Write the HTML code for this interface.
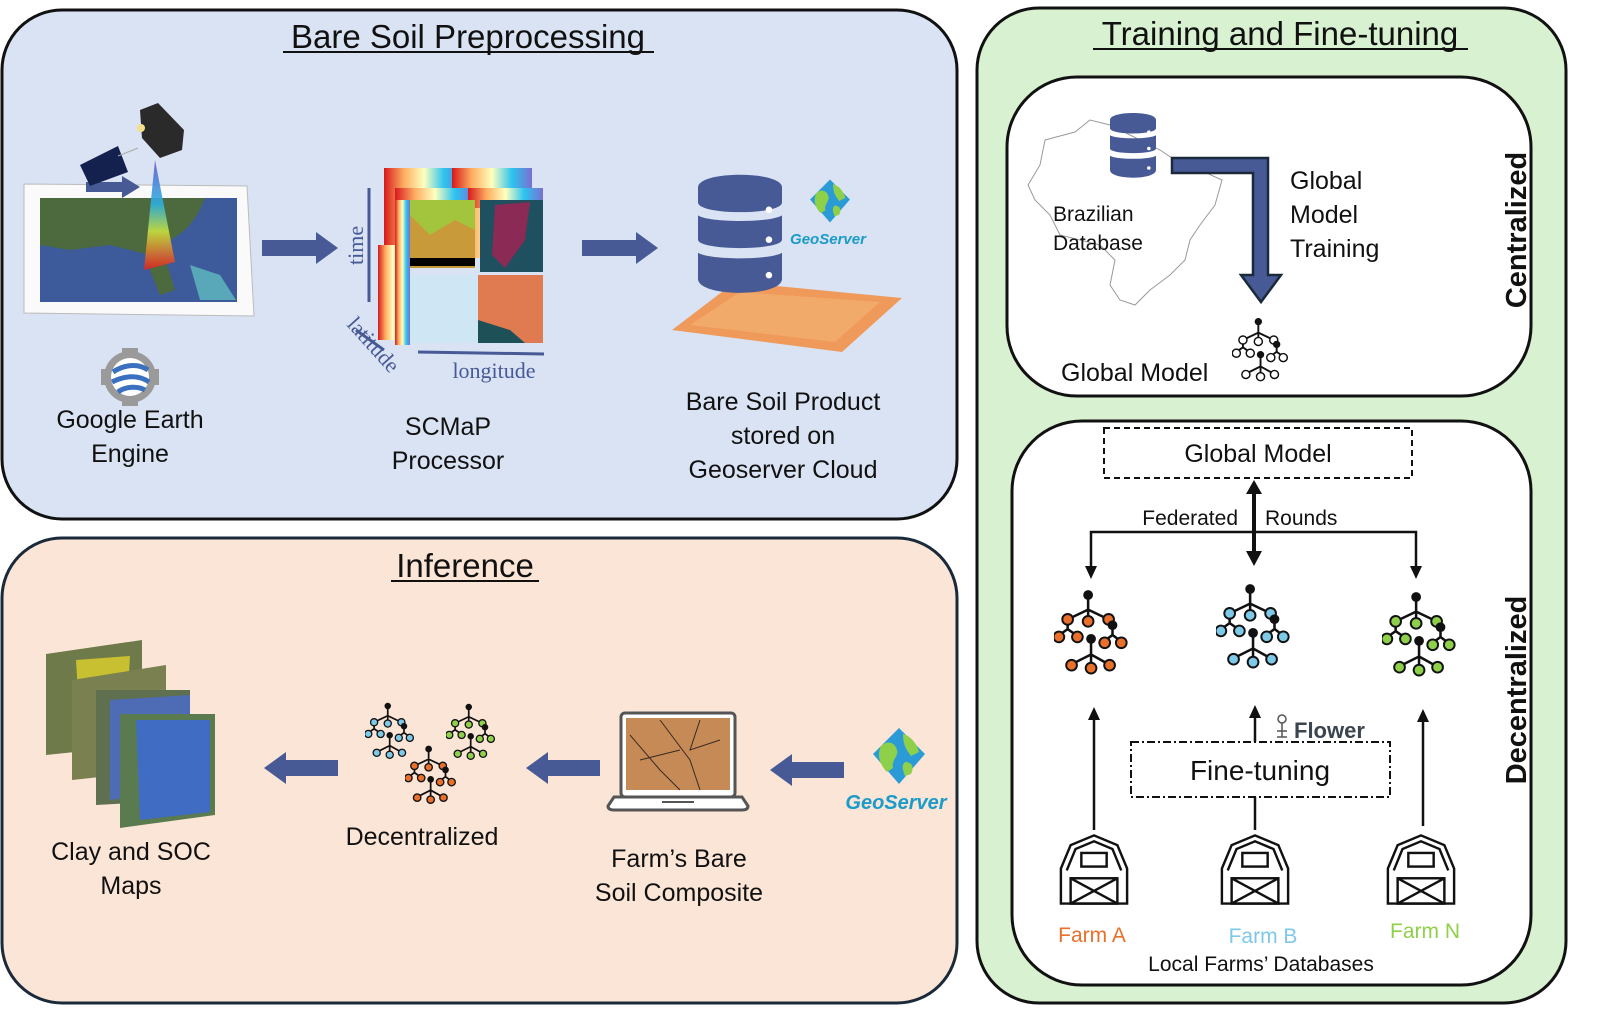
<!DOCTYPE html>
<html><head><meta charset="utf-8"><style>
html,body{margin:0;padding:0;background:#fff;}
svg{display:block;font-family:"Liberation Sans",sans-serif;}
</style></head><body>
<svg width="1600" height="1026" viewBox="0 0 1600 1026" xmlns="http://www.w3.org/2000/svg">
<defs>
<linearGradient id="rb" x1="0" y1="0" x2="1" y2="0">
<stop offset="0" stop-color="#d7191c"/><stop offset="0.25" stop-color="#fdae61"/><stop offset="0.5" stop-color="#ffffbf"/><stop offset="0.75" stop-color="#2bc4f0"/><stop offset="1" stop-color="#7b6fd0"/></linearGradient>
<linearGradient id="beam" x1="0" y1="0" x2="0" y2="1">
<stop offset="0" stop-color="#6a5acd"/><stop offset="0.4" stop-color="#2bb0e0"/><stop offset="0.65" stop-color="#c8e040"/><stop offset="1" stop-color="#e02020"/></linearGradient>
<symbol id="tree" viewBox="0 0 80 90">
<g stroke="#111" stroke-width="2.6" fill="none">
<path d="M35 5V20M35 20L14 30M35 20V32M35 20L56 30M14 30V40L4 47M14 40L24 47M60 36V46L52 52M60 46L68 52M38 52V66L18 76M38 66V78M38 66L56 76"/>
</g>
<g stroke="#111" stroke-width="2" fill="currentColor">
<circle cx="14" cy="30" r="5.5"/><circle cx="35" cy="32" r="5.5"/><circle cx="56" cy="30" r="5.5"/>
<circle cx="5" cy="48" r="5.5"/><circle cx="24" cy="48" r="5.5"/>
<circle cx="52" cy="54" r="5.5"/><circle cx="69" cy="54" r="5.5"/>
<circle cx="18" cy="77" r="5.5"/><circle cx="38" cy="80" r="5.5"/><circle cx="57" cy="77" r="5.5"/>
</g>
<g fill="#111"><circle cx="35" cy="5" r="5"/><circle cx="60" cy="36" r="5"/><circle cx="38" cy="50" r="5"/></g>
</symbol>
<symbol id="barn" viewBox="0 0 76 74">
<g fill="none" stroke="#111" stroke-width="2.5">
<path d="M4 72V36L14 12L38 2L62 12L72 36V72Z"/>
<path d="M10 38L19 16L38 8L57 16L66 38"/>
<rect x="25" y="20" width="26" height="14"/>
<rect x="14" y="46" width="48" height="26"/>
<path d="M14 46L62 72M62 46L14 72"/>
</g>
</symbol>
<symbol id="db" viewBox="0 0 90 130">
<g fill="#475a96">
<path d="M0 14C0-4 90-4 90 14V30C90 44 0 44 0 30Z"/>
<path d="M0 44C12 52 78 52 90 44V70C90 82 0 82 0 70Z"/>
<path d="M0 84C12 92 78 92 90 84V112C90 132 0 132 0 112Z"/>
</g>
<g fill="#fff"><circle cx="76" cy="38" r="3.5"/><circle cx="76" cy="70" r="3.5"/><circle cx="76" cy="108" r="3.5"/></g>
</symbol>
<symbol id="geo" viewBox="0 0 60 60">
<path d="M30 2L56 28L30 58L4 28Z" fill="#2a9bd6"/>
<path d="M12 20C18 14 26 16 28 24C30 30 22 34 24 42L18 46C10 38 8 28 12 20Z" fill="#8fd04a"/>
<path d="M34 8C42 10 48 18 50 26L42 30C38 24 34 20 34 8Z" fill="#8fd04a"/>
<path d="M36 36C42 36 46 40 42 48L36 50C34 44 32 40 36 36Z" fill="#8fd04a"/>
</symbol>
</defs>

<!-- Panels -->
<rect x="2" y="10" width="955" height="509" rx="60" fill="#dae3f3" stroke="#111" stroke-width="3"/>
<rect x="2" y="538" width="955" height="465" rx="60" fill="#fbe5d6" stroke="#1a2a3a" stroke-width="3"/>
<rect x="977" y="8" width="589" height="995" rx="62" fill="#d8f1d0" stroke="#111" stroke-width="3"/>
<rect x="1007" y="77" width="524" height="319" rx="70" fill="#fff" stroke="#111" stroke-width="3"/>
<rect x="1012" y="421" width="519" height="564" rx="70" fill="#fff" stroke="#111" stroke-width="3"/>

<!-- Titles -->
<text x="468" y="48" font-size="33" text-anchor="middle" fill="#111">Bare Soil Preprocessing</text>
<line x1="283" y1="52" x2="654" y2="52" stroke="#111" stroke-width="2"/>
<text x="1280" y="45" font-size="33" text-anchor="middle" fill="#111">Training and Fine-tuning</text>
<line x1="1093" y1="49" x2="1468" y2="49" stroke="#111" stroke-width="2"/>
<text x="465" y="577" font-size="33" text-anchor="middle" fill="#111">Inference</text>
<line x1="391" y1="581" x2="539" y2="581" stroke="#111" stroke-width="2"/>

<!-- Google Earth map -->
<polygon points="24,184 247,186 254,316 24,313" fill="#fafafa" stroke="#bbb" stroke-width="1"/>
<rect x="40" y="198" width="197" height="104" fill="#3d5a9a"/>
<path d="M40 198H205C198 215 190 230 170 240L150 255L110 245L70 250L40 245Z" fill="#4d6a3e"/>
<path d="M150 255L165 258L175 290L160 295L150 270Z" fill="#4d6a3e"/>
<path d="M190 265L220 275L236 300L200 300Z" fill="#5fbcc0" opacity="0.8"/>
<polygon points="155,160 144,270 175,262" fill="url(#beam)" opacity="0.9"/>
<rect x="86" y="182" width="36" height="10" fill="#475a96"/>
<polygon points="122,176 140,187 122,198" fill="#475a96"/>
<polygon points="80,165 118,146 128,172 90,186" fill="#14214f"/>
<line x1="118" y1="156" x2="138" y2="148" stroke="#aaa" stroke-width="1"/>
<polygon points="140,110 158,103 184,130 182,150 160,158 142,138" fill="#2a2a2a"/>
<circle cx="141" cy="128" r="4" fill="#f5e08a"/>
<!-- Google Earth Engine icon -->
<circle cx="130" cy="377" r="26" fill="#9a9a9a"/>
<g fill="#9a9a9a"><rect x="122" y="348" width="16" height="58"/><rect x="101" y="369" width="58" height="16"/></g>
<circle cx="130" cy="377" r="19" fill="#fff"/>
<path d="M113 372C122 366 136 362 148 370M112 382C124 376 138 374 149 382M118 392C126 386 138 386 145 390" stroke="#3b6fc0" stroke-width="5" fill="none"/>
<text x="130" y="428" font-size="25" text-anchor="middle" fill="#111">Google Earth</text>
<text x="130" y="462" font-size="25" text-anchor="middle" fill="#111">Engine</text>

<!-- Arrow 1 -->
<rect x="262" y="240" width="54" height="16" fill="#475a96"/>
<polygon points="316,232 338,248 316,264" fill="#475a96"/>

<!-- Cube -->
<g>
<rect x="384" y="168" width="80" height="90" fill="url(#rb)"/>
<rect x="452" y="168" width="80" height="90" fill="url(#rb)"/>
<rect x="378" y="245" width="30" height="95" fill="url(#rb)"/>
<rect x="395" y="188" width="80" height="20" fill="url(#rb)"/>
<rect x="468" y="188" width="75" height="20" fill="url(#rb)"/>
<rect x="395" y="200" width="15" height="145" fill="url(#rb)"/>
<rect x="410" y="200" width="65" height="68" fill="#c99a3a"/>
<path d="M410 200H475V230L455 220L430 235L410 215Z" fill="#9ad040" opacity="0.8"/>
<rect x="410" y="258" width="65" height="8" fill="#000"/>
<rect x="480" y="200" width="63" height="72" fill="#1f5060"/>
<path d="M495 205L530 202L525 240L505 268L492 255Z" fill="#8a2a55"/>
<rect x="410" y="275" width="68" height="68" fill="#cfe6f5"/>
<rect x="478" y="275" width="65" height="68" fill="#e07a50"/>
<path d="M478 320L510 330L525 343H478Z" fill="#1e5058"/>
<line x1="369" y1="188" x2="369" y2="302" stroke="#475a96" stroke-width="3"/>
<line x1="356" y1="330" x2="384" y2="350" stroke="#475a96" stroke-width="3"/>
<line x1="418" y1="352" x2="544" y2="354" stroke="#475a96" stroke-width="3"/>
<text x="0" y="0" font-family="Liberation Serif,serif" font-size="22" fill="#475a96" transform="translate(363,265) rotate(-90)">time</text>
<text x="0" y="0" font-family="Liberation Serif,serif" font-size="22" fill="#475a96" transform="translate(346,325) rotate(48)">latitude</text>
<text x="494" y="378" font-family="Liberation Serif,serif" font-size="22" text-anchor="middle" fill="#475a96">longitude</text>
</g>
<text x="448" y="435" font-size="25" text-anchor="middle" fill="#111">SCMaP</text>
<text x="448" y="469" font-size="25" text-anchor="middle" fill="#111">Processor</text>

<!-- Arrow 2 -->
<rect x="582" y="240" width="54" height="16" fill="#475a96"/>
<polygon points="636,232 658,248 636,264" fill="#475a96"/>

<!-- Bare soil product -->
<polygon points="672,330 735,282 902,298 842,352" fill="#ef9a5a"/>
<polygon points="690,325 740,292 880,302 835,342" fill="#f4b070" opacity="0.7"/>
<use href="#db" x="698" y="172" width="84" height="126"/>
<use href="#geo" x="806" y="178" width="48" height="46"/>
<text x="828" y="244" font-size="15" font-style="italic" font-weight="bold" text-anchor="middle" fill="#1a9bc9">GeoServer</text>
<text x="783" y="410" font-size="25" text-anchor="middle" fill="#111">Bare Soil Product</text>
<text x="783" y="444" font-size="25" text-anchor="middle" fill="#111">stored on</text>
<text x="783" y="478" font-size="25" text-anchor="middle" fill="#111">Geoserver Cloud</text>

<!-- Inference -->
<g>
<polygon points="46,654 142,640 142,745 46,755" fill="#6f7a4a"/>
<polygon points="76,660 130,656 128,690 78,694" fill="#c8c030"/>
<polygon points="72,680 166,665 166,770 72,780" fill="#7a8050"/>
<polygon points="96,690 190,690 190,800 96,805" fill="#5f7050"/>
<polygon points="110,700 190,695 190,790 110,800" fill="#4a6ad0" opacity="0.8"/>
<polygon points="120,714 215,714 215,815 120,828" fill="#5a7a50"/>
<polygon points="136,720 210,720 210,812 140,820" fill="#3a6ae0" opacity="0.8"/>
</g>
<text x="131" y="860" font-size="25" text-anchor="middle" fill="#111">Clay and SOC</text>
<text x="131" y="894" font-size="25" text-anchor="middle" fill="#111">Maps</text>

<rect x="286" y="760" width="52" height="16" fill="#475a96"/>
<polygon points="286,752 264,768 286,784" fill="#475a96"/>

<use href="#tree" x="365" y="702" width="52" height="60" style="color:#7ec8e8"/>
<use href="#tree" x="446" y="703" width="52" height="60" style="color:#8fd04a"/>
<use href="#tree" x="405" y="745" width="54" height="62" style="color:#e8702a"/>
<text x="422" y="845" font-size="25" text-anchor="middle" fill="#111">Decentralized</text>

<rect x="548" y="760" width="52" height="16" fill="#475a96"/>
<polygon points="548,752 526,768 548,784" fill="#475a96"/>

<!-- Laptop -->
<rect x="621" y="713" width="114" height="84" rx="4" fill="#fff" stroke="#555" stroke-width="3"/>
<rect x="626" y="718" width="104" height="72" fill="#c58a55"/>
<path d="M630 735L660 770L680 790M660 720L690 760L700 790M700 720L690 750L720 740M640 760L680 750" stroke="#3a2a20" stroke-width="1" fill="none"/>
<path d="M614 797H742L748 806Q748 810 742 810H614Q608 810 608 806Z" fill="#fff" stroke="#555" stroke-width="3"/>
<line x1="662" y1="802" x2="694" y2="802" stroke="#555" stroke-width="2"/>
<text x="679" y="867" font-size="25" text-anchor="middle" fill="#111">Farm’s Bare</text>
<text x="679" y="901" font-size="25" text-anchor="middle" fill="#111">Soil Composite</text>

<rect x="792" y="762" width="52" height="16" fill="#475a96"/>
<polygon points="792,754 770,770 792,786" fill="#475a96"/>
<use href="#geo" x="868" y="726" width="62" height="60"/>
<text x="896" y="809" font-size="20" font-style="italic" font-weight="bold" text-anchor="middle" fill="#1a9bc9">GeoServer</text>

<!-- Centralized -->
<path d="M1045 140L1075 132L1090 120L1110 125L1130 135L1160 150L1175 160L1200 170L1222 180L1215 205L1200 225L1190 240L1185 260L1170 275L1150 290L1135 305L1120 300L1110 285L1115 260L1100 245L1080 240L1060 235L1050 215L1035 200L1028 185L1040 165Z" fill="none" stroke="#999" stroke-width="1"/>
<use href="#db" x="1110" y="112" width="46" height="68"/>
<path d="M1172 158H1268V275H1281L1261 302L1241 275H1253V173H1172Z" fill="#475a96" stroke="#1a2a3a" stroke-width="2.5"/>
<text x="1290" y="189" font-size="25" fill="#111">Global</text>
<text x="1290" y="223" font-size="25" fill="#111">Model</text>
<text x="1290" y="257" font-size="25" fill="#111">Training</text>
<text x="1053" y="221" font-size="21" fill="#111">Brazilian</text>
<text x="1053" y="250" font-size="21" fill="#111">Database</text>
<text x="1061" y="381" font-size="25" fill="#111">Global Model</text>
<use href="#tree" x="1232" y="318" width="60" height="66" style="color:#fff"/>
<text x="0" y="0" font-size="29" font-weight="bold" text-anchor="middle" fill="#111" transform="translate(1526,230) rotate(-90)">Centralized</text>

<!-- Decentralized -->
<rect x="1104" y="428" width="308" height="50" fill="none" stroke="#111" stroke-width="2" stroke-dasharray="6,4"/>
<text x="1258" y="462" font-size="25" text-anchor="middle" fill="#111">Global Model</text>
<line x1="1254" y1="492" x2="1254" y2="553" stroke="#111" stroke-width="4"/>
<polygon points="1246,494 1254,480 1262,494" fill="#111"/>
<polygon points="1246,551 1254,566 1262,551" fill="#111"/>
<path d="M1091 566V532H1416V566" fill="none" stroke="#111" stroke-width="2.5"/>
<polygon points="1085,566 1091,579 1097,566" fill="#111"/>
<polygon points="1410,566 1416,579 1422,566" fill="#111"/>
<text x="1238" y="525" font-size="21" text-anchor="end" fill="#111">Federated</text>
<text x="1265" y="525" font-size="21" fill="#111">Rounds</text>

<use href="#tree" x="1054" y="590" width="78" height="88" style="color:#e8702a"/>
<use href="#tree" x="1216" y="584" width="78" height="88" style="color:#7ec8e8"/>
<use href="#tree" x="1382" y="592" width="78" height="88" style="color:#8fd04a"/>

<line x1="1094" y1="830" x2="1094" y2="718" stroke="#111" stroke-width="2.5"/>
<polygon points="1088,720 1094,707 1100,720" fill="#111"/>
<line x1="1255" y1="742" x2="1255" y2="716" stroke="#111" stroke-width="2.5"/>
<polygon points="1249,718 1255,705 1261,718" fill="#111"/>
<line x1="1255" y1="797" x2="1255" y2="830" stroke="#111" stroke-width="2.5"/>
<line x1="1423" y1="826" x2="1423" y2="720" stroke="#111" stroke-width="2.5"/>
<polygon points="1417,722 1423,709 1429,722" fill="#111"/>

<rect x="1131" y="742" width="259" height="55" fill="none" stroke="#111" stroke-width="2" stroke-dasharray="8,3,2,3"/>
<text x="1260" y="780" font-size="28" text-anchor="middle" fill="#111">Fine-tuning</text>
<circle cx="1282" cy="719" r="4" fill="none" stroke="#555" stroke-width="1.5"/>
<path d="M1282 723V737M1277 731H1287M1277 737H1287" stroke="#555" stroke-width="1.5"/>
<text x="1294" y="738" font-size="22" font-weight="bold" fill="#3a4550">Flower</text>

<use href="#barn" x="1057" y="833" width="74" height="73"/>
<use href="#barn" x="1218" y="833" width="74" height="73"/>
<use href="#barn" x="1384" y="833" width="74" height="73"/>
<text x="1092" y="942" font-size="21" text-anchor="middle" fill="#e8702a">Farm A</text>
<text x="1263" y="943" font-size="21" text-anchor="middle" fill="#7ec8e8">Farm B</text>
<text x="1425" y="938" font-size="21" text-anchor="middle" fill="#8fd04a">Farm N</text>
<text x="1261" y="971" font-size="21" text-anchor="middle" fill="#111">Local Farms’ Databases</text>
<text x="0" y="0" font-size="29" font-weight="bold" text-anchor="middle" fill="#111" transform="translate(1526,690) rotate(-90)">Decentralized</text>
</svg>
</body></html>
